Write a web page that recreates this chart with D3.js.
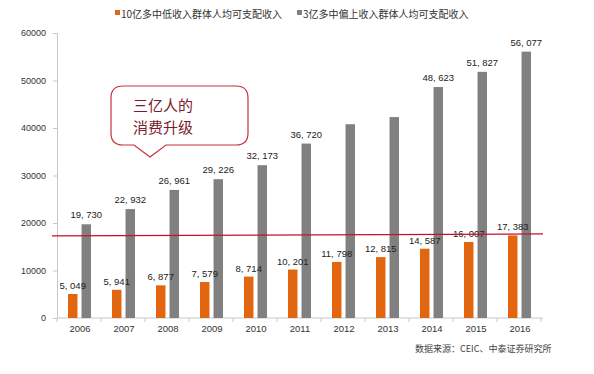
<!DOCTYPE html>
<html>
<head>
<meta charset="utf-8">
<script src="https://cdn.jsdelivr.net/npm/d3@7"></script>
<style>
  body { margin: 0; background: #fff; }
  text { font-family: "Liberation Sans", Arial, sans-serif; }
  .cjk { font-family: "Noto Sans CJK SC", sans-serif; }
</style>
</head>
<body>
<div id="chart"></div>
<script>
// data
const years = ["2006", "2007", "2008", "2009", "2010", "2011", "2012", "2013", "2014", "2015", "2016"];
const lowIncome = [5049, 5941, 6877, 7579, 8714, 10201, 11798, 12815, 14587, 16007, 17383];
const highIncome = [19730, 22932, 26961, 29226, 32173, 36720, 40800, 42300, 48623, 51827, 56077];
const highLabelShown = [true, true, true, true, true, true, false, false, true, true, true];
const yTicks = [0, 10000, 20000, 30000, 40000, 50000, 60000];
const refLine = [17300, 17700];
const seriesNames = ["10亿多中低收入群体人均可支配收入", "3亿多中偏上收入群体人均可支配收入"];

const W = 594, H = 374;
const margin = {top: 33, left: 57, right: 53, bottom: 56};
const colors = {low: "#e2650f", high: "#808080"};

const svg = d3.select("#chart").append("svg")
    .attr("width", W)
    .attr("height", H);

const x = d3.scaleBand()
    .domain(years)
    .range([margin.left, W - margin.right]);

const xInner = d3.scaleBand()
    .domain(["low", "high"])
    .range([11, 34])
    .paddingInner(0.3);

const y = d3.scaleLinear()
    .domain([0, 60000])
    .range([H - margin.bottom, margin.top]);

// y axis
const yAxis = svg.append("g")
    .attr("transform", `translate(${margin.left},0)`)
    .call(d3.axisLeft(y).tickValues(yTicks).tickSize(4).tickPadding(7).tickFormat(d3.format("d")));
yAxis.select(".domain").attr("stroke", "#c8c8c8");
yAxis.selectAll(".tick line").attr("stroke", "#c8c8c8");
yAxis.selectAll(".tick text").attr("font-size", 9).attr("fill", "#333");

// x axis: ticks at category boundaries
const xAxis = svg.append("g")
    .attr("transform", `translate(0,${y(0)})`);
xAxis.append("line")
    .attr("x1", margin.left).attr("x2", W - margin.right + 2)
    .attr("stroke", "#c8c8c8");
xAxis.selectAll(".bnd")
    .data(years.concat(["end"]))
    .enter().append("line")
    .attr("x1", (d, i) => margin.left + i * x.step())
    .attr("x2", (d, i) => margin.left + i * x.step())
    .attr("y1", 0).attr("y2", 4)
    .attr("stroke", "#c8c8c8");
xAxis.selectAll(".lbl")
    .data(years)
    .enter().append("text")
    .attr("x", d => x(d) + x.bandwidth() / 2 + 1)
    .attr("y", 14)
    .attr("text-anchor", "middle")
    .attr("font-size", 9.5)
    .attr("fill", "#333")
    .text(d => d);

// bars
const rows = years.map((yr, i) => ({year: yr, low: lowIncome[i], high: highIncome[i], showHigh: highLabelShown[i]}));
const fmt = v => d3.format(",")(v).replace(",", ", ");

const groups = svg.selectAll(".grp")
    .data(rows)
    .enter().append("g")
    .attr("transform", d => `translate(${x(d.year)},0)`);

["low", "high"].forEach(key => {
    groups.append("rect")
        .attr("x", xInner(key))
        .attr("y", d => y(d[key]))
        .attr("width", xInner.bandwidth())
        .attr("height", d => y(0) - y(d[key]))
        .attr("fill", colors[key]);
});

// data labels
groups.append("text")
    .attr("x", xInner("low") + xInner.bandwidth() / 2)
    .attr("y", d => y(d.low) - 5)
    .attr("text-anchor", "middle")
    .attr("font-size", 9.5)
    .attr("fill", "#222")
    .text(d => fmt(d.low));
groups.filter(d => d.showHigh).append("text")
    .attr("x", xInner("high") + xInner.bandwidth() / 2)
    .attr("y", d => y(d.high) - 6)
    .attr("text-anchor", "middle")
    .attr("font-size", 9.5)
    .attr("fill", "#222")
    .text(d => fmt(d.high));

// red reference line
svg.append("line")
    .attr("x1", margin.left - 5)
    .attr("x2", W - margin.right + 2)
    .attr("y1", y(refLine[0]))
    .attr("y2", y(refLine[1]))
    .attr("stroke", "#c8102e")
    .attr("stroke-width", 1.3);

// legend
const legend = svg.append("g").attr("transform", "translate(115,14)");
seriesNames.forEach((name, i) => {
    const lx = i === 0 ? 0 : 182;
    legend.append("rect")
        .attr("x", lx).attr("y", -4)
        .attr("width", 5).attr("height", 5)
        .attr("fill", i === 0 ? colors.low : colors.high);
    legend.append("text")
        .attr("class", "cjk")
        .attr("x", lx + 6).attr("y", 4)
        .attr("font-size", 10)
        .attr("fill", "#333")
        .text(name);
});

// callout bubble
const bx0 = 111, bx1 = 248, by0 = 86, by1 = 145, r = 12;
const bubble = d3.path();
bubble.moveTo(bx0 + r, by0);
bubble.lineTo(bx1 - r, by0);
bubble.quadraticCurveTo(bx1, by0, bx1, by0 + r);
bubble.lineTo(bx1, by1 - r);
bubble.quadraticCurveTo(bx1, by1, bx1 - r, by1);
bubble.lineTo(166, by1);
bubble.lineTo(150, 157);
bubble.lineTo(134, by1);
bubble.lineTo(bx0 + r, by1);
bubble.quadraticCurveTo(bx0, by1, bx0, by1 - r);
bubble.lineTo(bx0, by0 + r);
bubble.quadraticCurveTo(bx0, by0, bx0 + r, by0);
bubble.closePath();
svg.append("path")
    .attr("d", bubble.toString())
    .attr("fill", "#fff")
    .attr("stroke", "#c9303e")
    .attr("stroke-width", 1.2);
svg.append("text").attr("class", "cjk")
    .attr("x", 133).attr("y", 111)
    .attr("font-size", 15).attr("fill", "#7b1c2c")
    .text("三亿人的");
svg.append("text").attr("class", "cjk")
    .attr("x", 133).attr("y", 133)
    .attr("font-size", 15).attr("fill", "#7b1c2c")
    .text("消费升级");

// source note
svg.append("text").attr("class", "cjk")
    .attr("x", 415).attr("y", 352)
    .attr("font-size", 9)
    .attr("fill", "#444")
    .text("数据来源：CEIC、中泰证券研究所");
</script>
</body>
</html>
